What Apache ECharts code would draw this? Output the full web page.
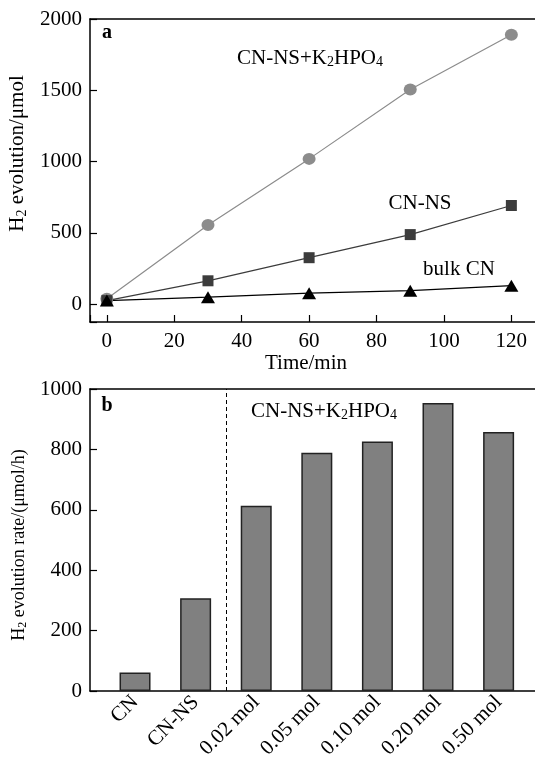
<!DOCTYPE html>
<html>
<head>
<meta charset="utf-8">
<script src="https://cdn.jsdelivr.net/npm/echarts@6/dist/echarts.min.js"></script>
<style>
    html, body { margin: 0; padding: 0; background: #fff; }
    #chart { width: 535px; height: 760px; }
</style>
</head>
<body>
<div id="chart"></div>
<script>
    // panel a: H2 evolution vs time
    var times = [0, 30, 60, 90, 120];
    var withK2HPO4 = [38, 556, 1019, 1505, 1890];
    var cnNs = [25, 164, 326, 488, 692];
    var bulkCn = [25, 49, 77, 95, 130];

    // panel b: evolution rate
    var categories = ['CN', 'CN-NS', '0.02 mol', '0.05 mol', '0.10 mol', '0.20 mol', '0.50 mol'];
    var rates = [61, 307, 613, 789, 826, 954, 858];

    var serif = '"Liberation Serif", "Times New Roman", serif';
    function richOf(size) {
        return {
            n: { fontSize: size, fontFamily: serif, color: '#000', lineHeight: size + 2 },
            s: { fontSize: Math.round(size * 0.65), fontFamily: serif, color: '#000', lineHeight: 8, verticalAlign: 'bottom' }
        };
    }

    function pairs(xs, ys) {
        var out = [];
        for (var i = 0; i < xs.length; i++) {
            out.push([xs[i], ys[i]]);
        }
        return out;
    }

    var axisLine = { show: true, onZero: false, lineStyle: { color: '#000', width: 1.5 } };
    var tick = { show: true, inside: true, length: 7, lineStyle: { color: '#000', width: 1.2 } };
    var label = { color: '#000', fontSize: 21, fontFamily: serif };

    var chart = echarts.init(document.getElementById('chart'));
    var option = {
        animation: false,
        backgroundColor: '#fff',
        grid: [
            { left: 90, top: 19, right: -3, bottom: 438, outerBoundsMode: 'none', containLabel: false },
            { left: 90, top: 389, right: -3, bottom: 69, outerBoundsMode: 'none', containLabel: false }
        ],
        xAxis: [
            {
                type: 'value', gridIndex: 0, min: -5, max: 127.9,
                minInterval: 20, maxInterval: 20,
                name: 'Time/min', nameLocation: 'middle', nameGap: 31,
                nameTextStyle: { color: '#000', fontSize: 21, fontFamily: serif, padding: [0, 16, 0, 0] },
                axisLine: axisLine, axisTick: tick, splitLine: { show: false },
                axisLabel: Object.assign({ margin: 9, formatter: function (v) { return v % 20 === 0 ? String(v) : ''; } }, label)
            },
            {
                type: 'value', gridIndex: 0, position: 'top', min: -5, max: 127.9,
                axisLine: axisLine, axisTick: { show: false }, axisLabel: { show: false }, splitLine: { show: false }
            },
            {
                type: 'value', gridIndex: 1, min: -0.743, max: 6.65,
                minInterval: 1, maxInterval: 1,
                axisLine: axisLine, axisTick: { show: false }, splitLine: { show: false },
                axisLabel: Object.assign({
                    rotate: 45, margin: 8,
                    formatter: function (v) {
                        var i = Math.round(v);
                        return (Math.abs(v - i) < 1e-6 && categories[i]) ? categories[i] : '';
                    }
                }, label)
            },
            {
                type: 'value', gridIndex: 1, position: 'top', min: -0.743, max: 6.65,
                axisLine: axisLine, axisTick: { show: false }, axisLabel: { show: false }, splitLine: { show: false }
            }
        ],
        yAxis: [
            {
                type: 'value', gridIndex: 0, min: -125, max: 2000,
                minInterval: 500, maxInterval: 500,
                name: '{n|H}{s|2}{n| evolution/μmol}', nameLocation: 'middle', nameGap: 46,
                nameTextStyle: { rich: richOf(21), padding: [0, 0, 0, 34] },
                axisLine: axisLine, axisTick: tick, splitLine: { show: false },
                axisLabel: Object.assign({ margin: 8, formatter: function (v) { return v % 500 === 0 ? String(v) : ''; } }, label)
            },
            {
                type: 'value', gridIndex: 1, min: 0, max: 1000, interval: 200,
                name: '{n|H}{s|2}{n| evolution rate/(μmol/h)}', nameLocation: 'middle', nameGap: 50,
                nameTextStyle: { rich: richOf(18), padding: [0, 10, 0, 0] },
                axisLine: axisLine, axisTick: tick, splitLine: { show: false },
                axisLabel: Object.assign({ margin: 8, formatter: function (v) { return String(v); } }, label)
            }
        ],
        series: [
            {
                name: 'CN-NS+K2HPO4', type: 'line', xAxisIndex: 0, yAxisIndex: 0,
                data: pairs(times, withK2HPO4),
                symbol: 'circle', symbolSize: [13, 12],
                itemStyle: { color: '#8c8c8c' },
                lineStyle: { color: '#8c8c8c', width: 1.2 }
            },
            {
                name: 'CN-NS', type: 'line', xAxisIndex: 0, yAxisIndex: 0,
                data: pairs(times, cnNs),
                symbol: 'rect', symbolSize: [11, 11],
                itemStyle: { color: '#3c3c3c' },
                lineStyle: { color: '#3c3c3c', width: 1.2 }
            },
            {
                name: 'bulk CN', type: 'line', xAxisIndex: 0, yAxisIndex: 0,
                data: pairs(times, bulkCn),
                symbol: 'triangle', symbolSize: [14, 12],
                itemStyle: { color: '#000' },
                lineStyle: { color: '#000', width: 1.2 }
            },
            {
                name: 'rate', type: 'bar', xAxisIndex: 2, yAxisIndex: 1,
                data: pairs([0, 1, 2, 3, 4, 5, 6], rates),
                barWidth: 31,
                itemStyle: { color: '#808080', borderColor: '#222', borderWidth: 1.5 },
                markLine: {
                    silent: true, symbol: 'none', label: { show: false },
                    lineStyle: { color: '#000', width: 1, type: [4, 3] },
                    data: [{ xAxis: 1.5 }]
                }
            }
        ],
        graphic: [
            { type: 'text', x: 107, y: 33, style: { text: 'a', align: 'center', verticalAlign: 'middle', font: 'bold 20px ' + serif, fill: '#000' } },
            { type: 'text', x: 310, y: 58, style: { text: '{n|CN-NS+K}{s|2}{n|HPO}{s|4}', rich: richOf(21), align: 'center', verticalAlign: 'middle' } },
            { type: 'text', x: 420, y: 203, style: { text: 'CN-NS', align: 'center', verticalAlign: 'middle', font: '21px ' + serif, fill: '#000' } },
            { type: 'text', x: 459, y: 269, style: { text: 'bulk CN', align: 'center', verticalAlign: 'middle', font: '21px ' + serif, fill: '#000' } },
            { type: 'text', x: 107, y: 406, style: { text: 'b', align: 'center', verticalAlign: 'middle', font: 'bold 20px ' + serif, fill: '#000' } },
            { type: 'text', x: 324, y: 411, style: { text: '{n|CN-NS+K}{s|2}{n|HPO}{s|4}', rich: richOf(21), align: 'center', verticalAlign: 'middle' } }
        ]
    };
    chart.setOption(option);
</script>
</body>
</html>
